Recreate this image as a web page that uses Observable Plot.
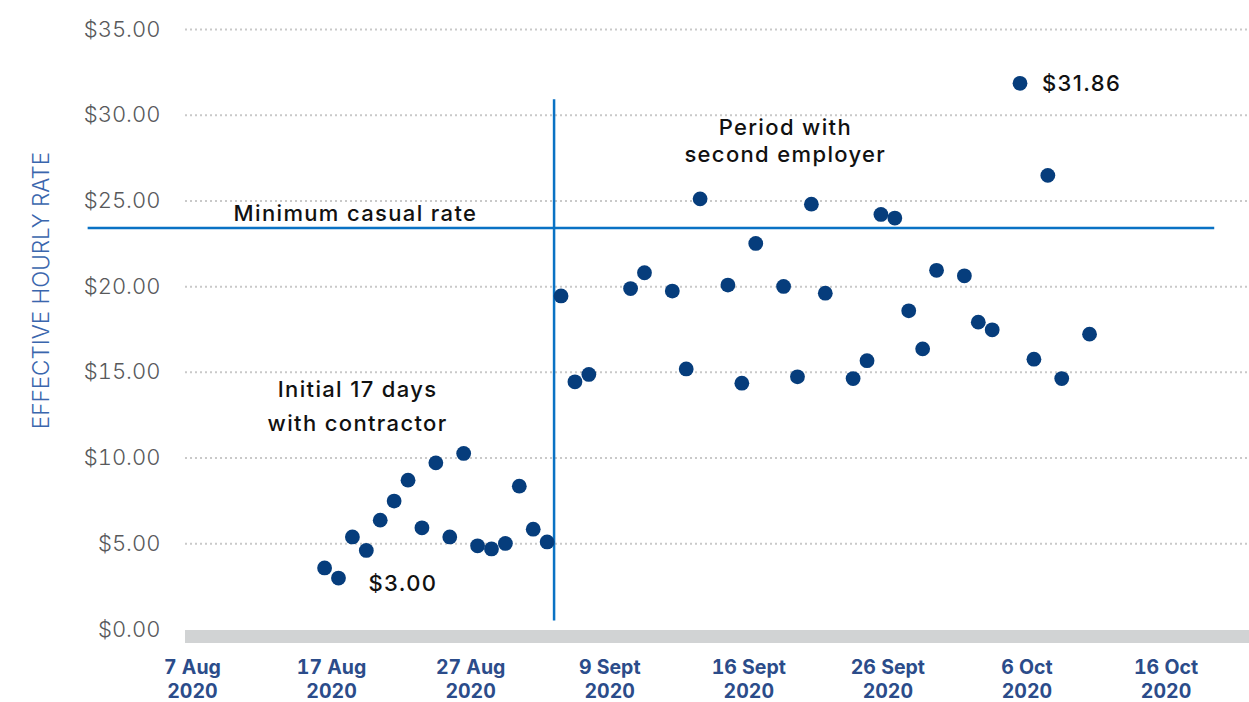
<!DOCTYPE html>
<html>
<head>
<meta charset="utf-8">
<script src="https://cdn.jsdelivr.net/npm/d3@7"></script>
<script src="https://cdn.jsdelivr.net/npm/@observablehq/plot@0.6"></script>
<style>
  body { margin: 0; background: #ffffff; }
  #chart svg { display: block; }
  #chart g[aria-description="note"] text { letter-spacing: 1.35px; }
</style>
</head>
<body>
<div id="chart"></div>
<script>
// ---- data ----
const contractorDates = ["2020-08-17","2020-08-18","2020-08-19","2020-08-20","2020-08-21","2020-08-22","2020-08-23","2020-08-24","2020-08-25","2020-08-26","2020-08-27","2020-08-28","2020-08-29","2020-08-30","2020-08-31","2020-09-01","2020-09-02"];
const contractorRates = [3.59, 3.00, 5.40, 4.61, 6.38, 7.49, 8.71, 5.93, 9.72, 5.40, 10.27, 4.88, 4.70, 5.02, 8.36, 5.85, 5.11];

const employerDates = ["2020-09-03","2020-09-04","2020-09-05","2020-09-08","2020-09-09","2020-09-11","2020-09-12","2020-09-13","2020-09-15","2020-09-16","2020-09-17","2020-09-19","2020-09-20","2020-09-21","2020-09-22","2020-09-24","2020-09-25","2020-09-26","2020-09-27","2020-09-28","2020-09-29","2020-09-30","2020-10-02","2020-10-03","2020-10-04","2020-10-06","2020-10-07","2020-10-08","2020-10-09","2020-10-11"];
const employerRates = [19.46, 14.45, 14.88, 19.89, 20.81, 19.74, 15.20, 25.12, 20.09, 14.37, 22.52, 20.01, 14.74, 24.81, 19.62, 14.64, 15.68, 24.21, 24.00, 18.59, 16.37, 20.95, 20.63, 17.93, 17.48, 31.86, 15.77, 26.49, 14.64, 17.23];

const xTickDates = ["2020-08-07","2020-08-17","2020-08-27","2020-09-06","2020-09-16","2020-09-26","2020-10-06","2020-10-16"];
const xTickLabels = ["7 Aug\n2020","17 Aug\n2020","27 Aug\n2020","9 Sept\n2020","16 Sept\n2020","26 Sept\n2020","6 Oct\n2020","16 Oct\n2020"];
const yTicks = [0, 5, 10, 15, 20, 25, 30, 35];

const minimumCasualRate = 23.42;
const minRateSpan = ["2020-07-31", "2020-10-20"];
const changeOfEmployer = "2020-09-02T12:00Z";
const changeLineSpan = [0.5, 30.9];
const xDomain = ["2020-08-07", "2020-10-22T12:00Z"];

const lowLabel = {date: "2020-08-18", rate: 3.00, text: "$3.00"};
const highLabel = {date: "2020-10-06", rate: 31.86, text: "$31.86"};
const notes = [
  {date: "2020-08-10T11:00Z", rate: 24.35, text: "Minimum casual rate", anchor: "start", lh: 1.25},
  {date: "2020-09-19T03:00Z", rate: 28.57, text: "Period with\nsecond employer", anchor: "middle", lh: 1.25},
  {date: "2020-08-19T09:00Z", rate: 13.2, text: "Initial 17 days\nwith contractor", anchor: "middle", lh: 1.55}
];

// ---- build ----
const D = s => new Date(s.length === 10 ? s + "T00:00Z" : s);
const points = contractorDates.map((d, i) => ({date: D(d), rate: contractorRates[i]}))
  .concat(employerDates.map((d, i) => ({date: D(d), rate: employerRates[i]})));
const tickNoon = xTickDates.map(d => new Date(D(d).getTime() + 12 * 3600 * 1000));
const labelOf = new Map(tickNoon.map((d, i) => [+d, xTickLabels[i]]));

const blue = "#0a72c4";
const navy = "#063d7c";
const noteStyle = {fontSize: 22, fontWeight: 500, fill: "#111", ariaDescription: "note"};

const chart = Plot.plot({
  width: 1249,
  height: 702,
  marginLeft: 185,
  marginRight: 0,
  marginTop: 29,
  marginBottom: 73,
  style: {fontFamily: "Inter, 'Open Sans', sans-serif", background: "#fff", overflow: "visible"},
  x: {type: "utc", domain: xDomain.map(D)},
  y: {domain: [0, 35]},
  marks: [
    Plot.ruleY(yTicks.filter(v => v > 0), {stroke: "#c9c9c9", strokeWidth: 2, strokeDasharray: "2 3"}),
    Plot.ruleY([0], {stroke: "#d1d3d4", strokeWidth: 13, dy: 7}),
    Plot.ruleY([{y: minimumCasualRate, x1: D(minRateSpan[0]), x2: D(minRateSpan[1])}],
      {y: "y", x1: "x1", x2: "x2", stroke: blue, strokeWidth: 2.5}),
    Plot.ruleX([{x: D(changeOfEmployer), y1: changeLineSpan[0], y2: changeLineSpan[1]}],
      {x: "x", y1: "y1", y2: "y2", stroke: blue, strokeWidth: 2.5}),
    Plot.dot(points, {x: "date", y: "rate", r: 7.4, fill: navy, stroke: "none"}),
    Plot.text([lowLabel], {x: d => D(d.date), y: "rate", text: "text", dx: 30, dy: 6,
      textAnchor: "start", ...noteStyle}),
    Plot.text([highLabel], {x: d => D(d.date), y: "rate", text: "text", dx: 22, dy: 1,
      textAnchor: "start", ...noteStyle}),
    ...notes.map(n => Plot.text([n], {x: d => D(d.date), y: "rate", text: "text", textAnchor: n.anchor,
      lineHeight: n.lh, ...noteStyle})),
    Plot.axisY({ticks: yTicks, tickFormat: d => "$" + d.toFixed(2), tickSize: 0, tickPadding: 25,
      fontSize: 22, fill: "#58595b", fontWeight: 300, label: null}),
    Plot.axisX({ticks: tickNoon, tickFormat: d => labelOf.get(+d), tickSize: 0, tickPadding: 27,
      fontSize: 19.5, fontWeight: 700, fill: "#2b4c8a", lineHeight: 1.23, label: null}),
    Plot.text(["EFFECTIVE HOURLY RATE"], {frameAnchor: "left", dx: -144, dy: -39, rotate: -90,
      textAnchor: "middle", text: d => d, fontSize: 22.5, fontWeight: 300, fill: "#3a66ad"})
  ]
});
document.getElementById("chart").appendChild(chart);
</script>
</body>
</html>
